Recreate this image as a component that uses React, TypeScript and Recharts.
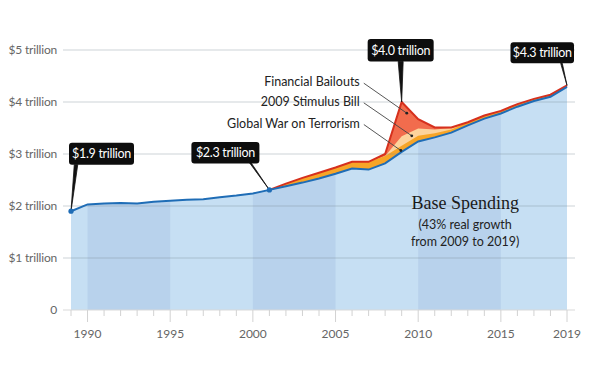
import React from 'react';
import {
  ComposedChart,
  Area,
  Line,
  XAxis,
  YAxis,
  ReferenceLine,
  ReferenceDot
} from 'recharts';

// Years on the x axis
const years = [
  1989, 1990, 1991, 1992, 1993, 1994, 1995, 1996, 1997, 1998, 1999, 2000,
  2001, 2002, 2003, 2004, 2005, 2006, 2007, 2008, 2009, 2010, 2011, 2012,
  2013, 2014, 2015, 2016, 2017, 2018, 2019
];

// Spending layers, in trillions
const baseSpending = [
  1.90, 2.03, 2.05, 2.06, 2.05, 2.08, 2.10, 2.12, 2.13, 2.17, 2.20, 2.24,
  2.31, 2.38, 2.45, 2.53, 2.62, 2.72, 2.70, 2.82, 3.04, 3.24, 3.32, 3.41,
  3.55, 3.68, 3.78, 3.91, 4.02, 4.10, 4.29
];
const warOnTerror = [
  null, null, null, null, null, null, null, null, null, null, null, null,
  0, 0.05, 0.09, 0.11, 0.12, 0.13, 0.15, 0.14, 0.12, 0.11, 0.08, 0.06,
  0.06, 0.06, 0.05, 0.05, 0.04, 0.04, 0.03
];
const stimulusBill = [
  null, null, null, null, null, null, null, null, null, null, null, null,
  0, 0, 0, 0, 0, 0, 0, 0, 0.18, 0.14, 0.07, 0.03,
  0, 0, 0, 0, 0, 0, 0
];
const bailouts = [
  null, null, null, null, null, null, null, null, null, null, null, null,
  0, 0, 0, 0, 0, 0, 0, 0.04, 0.66, 0.18, 0.04, 0.01,
  0, 0, 0, 0, 0, 0, 0
];

// Shaded half-decades
const bandSpans = [[1990, 1995], [2000, 2005], [2010, 2015]];

const yTicks = [0, 1, 2, 3, 4, 5];
const labelledYears = [1990, 1995, 2000, 2005, 2010, 2015, 2019];

const FONT = 'Lato, "Open Sans", sans-serif';

// Non-stacked cumulative tops, drawn back to front
const rows = years.map((year, i) => {
  const base = baseSpending[i];
  const g = warOnTerror[i];
  const inBand = bandSpans.some(([a, b]) => year >= a && year <= b);
  if (g == null) {
    return { year, base, band: inBand ? base : null, gwotTop: null, stimTop: null, total: null };
  }
  const gwotTop = base + g;
  const stimTop = gwotTop + (stimulusBill[i] ?? 0);
  const total = stimTop + (bailouts[i] ?? 0);
  return { year, base, band: inBand ? base : null, gwotTop, stimTop, total };
});

const totalAt = (year: number) => rows.find(r => r.year === year)!.total as number;

function YearTick(props: any) {
  const { x, y, payload } = props;
  const major = labelledYears.includes(payload.value);
  return (
    <g>
      <line x1={x} x2={x} y1={y} y2={y + (major ? 12 : 6)} stroke="#d2d2d2" />
      {major && (
        <text x={x} y={y + 28} textAnchor="middle" fill="#666" fontSize={12} fontFamily={FONT}>
          {payload.value}
        </text>
      )}
    </g>
  );
}

function MoneyTick(props: any) {
  const { x, y, payload } = props;
  const v = payload.value;
  return (
    <text x={x} y={y + 4} textAnchor="end" fill="#666" fontSize={12} fontFamily={FONT} letterSpacing={-0.2}>
      {v === 0 ? '0' : `$${v} trillion`}
    </text>
  );
}

// Black value box with a pointer down to the data point
function callout(text: string, dx: number, dy: number, w: number, h: number, tipX: number, tipY: number, tipW: number, dot: boolean) {
  return (props: any) => {
    const { cx, cy } = props;
    return (
      <g>
        <polygon
          points={`${cx + tipX - tipW / 2},${cy + tipY} ${cx + tipX + tipW / 2},${cy + tipY} ${cx},${cy}`}
          fill="#111"
          stroke="#111"
          strokeWidth={0.8}
        />
        <rect x={cx + dx} y={cy + dy} width={w} height={h} rx={3} fill="#0d0d0d" />
        <text
          x={cx + dx + w / 2}
          y={cy + dy + h / 2 + 4.5}
          textAnchor="middle"
          fill="#fff"
          fontSize={12.5}
          letterSpacing={-0.3}
          fontFamily={FONT}
        >
          {text}
        </text>
        {dot && <circle cx={cx} cy={cy} r={2.6} fill="#1f6db6" />}
      </g>
    );
  };
}

// Layer name with a leader line to a point inside that layer
function leader(text: string, lx: number, ly: number) {
  return (props: any) => {
    const { cx, cy } = props;
    return (
      <g>
        <line x1={cx + lx} y1={cy + ly} x2={cx} y2={cy} stroke="#444" strokeWidth={0.9} />
        <circle cx={cx} cy={cy} r={1.4} fill="#222" />
        <text x={cx + lx - 4} y={cy + ly + 3} textAnchor="end" fill="#222" fontSize={12.5} fontFamily={FONT}>
          {text}
        </text>
      </g>
    );
  };
}

function baseLabel(props: any) {
  const { cx, cy } = props;
  return (
    <g>
      <text x={cx} y={cy + 6} textAnchor="middle" fill="#1a1a1a" fontSize={18} fontFamily='"Liberation Serif", "DejaVu Serif", serif'>
        Base Spending
      </text>
      <text x={cx} y={cy + 26.5} textAnchor="middle" fill="#222" fontSize={12.5} fontFamily={FONT}>
        (43% real growth
      </text>
      <text x={cx} y={cy + 43} textAnchor="middle" fill="#222" fontSize={12.5} fontFamily={FONT}>
        from 2009 to 2019)
      </text>
    </g>
  );
}

export default function App() {
  return (
    <div style={{ position: 'absolute', left: 0, top: 0, width: 595, height: 369, background: '#fff' }}>
      <ComposedChart
        width={595}
        height={369}
        data={rows}
        margin={{ top: 50, right: 20, bottom: 29, left: 0 }}
      >
        <XAxis
          dataKey="year"
          type="number"
          domain={[1989, 2019]}
          ticks={years}
          interval={0}
          padding={{ left: 8, right: 8 }}
          tickSize={0}
          tickMargin={0}
          tickLine={false}
          axisLine={{ stroke: '#d9d9d9' }}
          height={30}
          tick={<YearTick />}
        />
        <YAxis
          type="number"
          domain={[0, 5]}
          ticks={yTicks}
          width={63}
          axisLine={false}
          tickLine={false}
          tickSize={0}
          tickMargin={6}
          tick={<MoneyTick />}
        />

        <Area type="linear" dataKey="total" fill="#f26c4d" fillOpacity={1} stroke="none" isAnimationActive={false} />
        <Area type="linear" dataKey="stimTop" fill="#fdd39c" fillOpacity={1} stroke="none" isAnimationActive={false} />
        <Area type="linear" dataKey="gwotTop" fill="#f7a527" fillOpacity={1} stroke="none" isAnimationActive={false} />
        <Area type="linear" dataKey="base" fill="#c6dff3" fillOpacity={1} stroke="none" isAnimationActive={false} />
        <Area type="linear" dataKey="band" fill="#b8d2ec" fillOpacity={1} stroke="none" isAnimationActive={false} />

        {yTicks.slice(1).map(v => (
          <ReferenceLine key={v} y={v} stroke="#7a8a99" strokeOpacity={0.25} strokeWidth={1.5} />
        ))}

        <Line type="linear" dataKey="total" stroke="#d6301d" strokeWidth={2} dot={false} isAnimationActive={false} />
        <Line type="linear" dataKey="base" stroke="#1f6db6" strokeWidth={2} dot={false} isAnimationActive={false} />

        <ReferenceDot x={2009.31} y={3.785} r={0} shape={leader('Financial Bailouts', -43, -30)} />
        <ReferenceDot x={2009.61} y={3.35} r={0} shape={leader('2009 Stimulus Bill', -48, -33)} />
        <ReferenceDot x={2008.95} y={3.067} r={0} shape={leader('Global War on Terrorism', -37, -26)} />

        <ReferenceDot x={1989} y={baseSpending[0]} r={0} shape={callout('$1.9 trillion', -2, -68.5, 65, 22, 5, -46.5, 3.5, true)} />
        <ReferenceDot x={2001} y={baseSpending[12]} r={0} shape={callout('$2.3 trillion', -78, -48, 68, 21.5, -19, -27, 1.6, true)} />
        <ReferenceDot x={2009} y={totalAt(2009)} r={0} shape={callout('$4.0 trillion', -34, -63, 66, 22.5, -1, -40.5, 5, false)} />
        <ReferenceDot x={2019} y={totalAt(2019)} r={0} shape={callout('$4.3 trillion', -56.5, -43, 63.5, 21, -5.5, -22, 1.6, false)} />

        <ReferenceDot x={2012.84} y={2.063} r={0} shape={baseLabel} />
      </ComposedChart>
    </div>
  );
}
